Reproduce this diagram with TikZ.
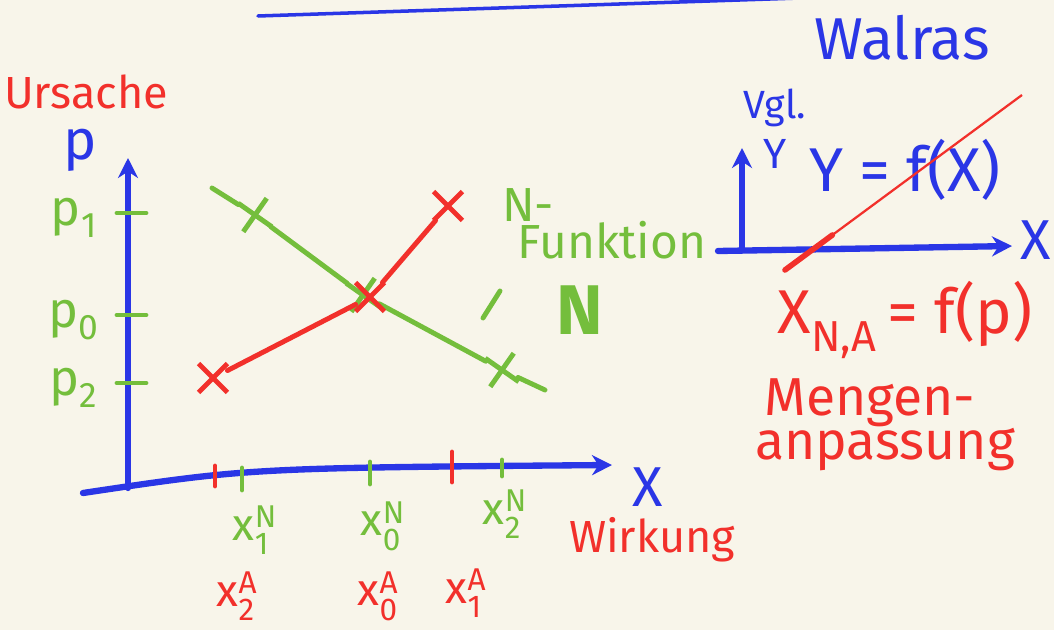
\documentclass[tikz,border=0pt]{standalone}
\usepackage{amsmath}
\usepackage{fontspec}
\setmainfont{Fira Sans}
\usetikzlibrary{arrows.meta,positioning,shapes.misc,calc}
\definecolor{papier}{HTML}{F8F5EA}
\definecolor{blau}{HTML}{2A36E6}
\definecolor{rot}{HTML}{F2302B}
\definecolor{gruen}{HTML}{74BE3C}
\newcommand{\hv}[3]{$\text{#1}^{\text{#2}}_{\text{#3}}$}
\newcommand{\hs}[2]{$\text{#1}_{\text{#2}}$}
\tikzset{
  achse/.style={blau,line width=4.5pt,line cap=round,-{Stealth[length=5mm,width=5mm]}},
  kreuz/.style={cross out,draw,line width=3.5pt,minimum size=6mm,inner sep=0pt},
  strich/.style={line width=3.5pt,line cap=round},
  txt/.style={inner sep=0pt,font=\fontsize{#1}{#1}\selectfont},
  txt/.default=34,
}

\begin{document}
\begin{tikzpicture}[x=0.025cm,y=-0.025cm]
  \useasboundingbox[fill=papier] (0,0) rectangle (1054,630);
  % Strich oben
  \coordinate (oben1) at (258,16);
  \coordinate (oben2) at (800,-2);
  \draw[blau,line width=2.5pt,line cap=round] (oben1) -- (oben2);
  % Ursache / Wirkung
  \node[txt=32,rot] (ursache) at (86,92) {Ursache};
  \node[txt=32,rot] (wirkung) at (652,540) {Wirkung};
  % Achsen links
  \coordinate (ursprung) at (128,488);
  \coordinate (pspitze) at (128,158);
  \coordinate (xanfang) at (83,493);
  \coordinate (xspitze) at (612,465);
  \draw[achse] (ursprung) -- (pspitze);
  \draw[achse] (xanfang) .. controls (250,468) .. (xspitze);
  \node[txt=40,blau] (plab) at (80,150) {p};
  \node[txt=40,blau] (xlab) at (648,487) {X};
  % Preise
  \foreach \y/\i in {213/1,315/0,383/2}{
    \draw[strich,gruen] (117,\y) -- (146,\y);
    \node[txt=36,gruen] (p\i) at (74,\y+5) {\hs{p}{\i}};
  }
  % Mengen auf der x-Achse
  \foreach \x/\a/\b/\c in {215/466/486/rot,242/468/490/gruen,370/462/484/gruen,452/452/482/rot,502/460/476/gruen}
    \draw[strich,\c] (\x,\a) -- (\x,\b);
  \node[txt=32,gruen] (xn1) at (255,530) {\hv{x}{N}{1}};
  \node[txt=32,gruen] (xn0) at (383,526) {\hv{x}{N}{0}};
  \node[txt=32,gruen] (xn2) at (505,514) {\hv{x}{N}{2}};
  \node[txt=32,rot] (xa2) at (237,596) {\hv{x}{A}{2}};
  \node[txt=32,rot] (xa0) at (378,596) {\hv{x}{A}{0}};
  \node[txt=32,rot] (xa1) at (466,593) {\hv{x}{A}{1}};
  % N-Funktion
  \coordinate (nanf) at (212,188);
  \node[kreuz,gruen,rotate=10] (n1) at (255,215) {};
  \node[kreuz,gruen,rotate=10] (n0) at (363,295) {};
  \node[kreuz,gruen,rotate=10] (n2) at (502,370) {};
  \coordinate (nend) at (545,390);
  \draw[strich,gruen] (nanf) -- (n1) -- (n0) -- (n2) -- (nend);
  % A-Funktion
  \node[kreuz,rot] (a2) at (213,378) {};
  \node[kreuz,rot] (a0) at (370,297) {};
  \node[kreuz,rot] (a1) at (448,206) {};
  \draw[strich,rot] (a2) -- (a0) -- (a1);
  % Beschriftung N
  \node[txt,gruen] (nstrich) at (528,205) {N-};
  \node[txt,gruen] (funktion) at (612,240) {Funktion};
  \coordinate (schr1) at (483,318);
  \coordinate (schr2) at (500,291);
  \draw[strich,gruen] (schr1) -- (schr2);
  \node[inner sep=0pt,font=\fontsize{50}{50}\selectfont\bfseries,gruen] (nbig) at (580,310) {N};
  % Walras
  \node[txt=42,blau] (walras) at (902,38) {Walras};
  \node[txt=28,blau] (vgl) at (775,108) {Vgl.};
  \coordinate (yursprung) at (742,250);
  \coordinate (yspitze) at (742,148);
  \coordinate (xxanfang) at (718,251);
  \coordinate (xxspitze) at (1012,246);
  \draw[achse] (yursprung) -- (yspitze);
  \draw[achse] (xxanfang) -- (xxspitze);
  \node[txt=30,blau] (ylab) at (775,154) {Y};
  \node[txt=40,blau] (xxlab) at (1036,240) {X};
  \node[txt=44,blau] (yfx) at (905,170) {Y = f(X)};
  \coordinate (rl1) at (785,270);
  \coordinate (rl2) at (1022,95);
  \draw[rot,line width=1.6pt] (rl1) -- (rl2);
  \draw[rot,line width=4pt,line cap=round] (rl1) -- ($(rl1)!0.2!(rl2)$);
  % Mengenanpassung
  \node[txt=44,rot] (xna) at (905,320) {\hs{X}{N,A}\,= f(p)};
  \node[txt=38,rot] (mengen) at (870,403) {Mengen-};
  \node[txt=38,rot] (anpassung) at (885,450) {anpassung};
\end{tikzpicture}
\end{document}
